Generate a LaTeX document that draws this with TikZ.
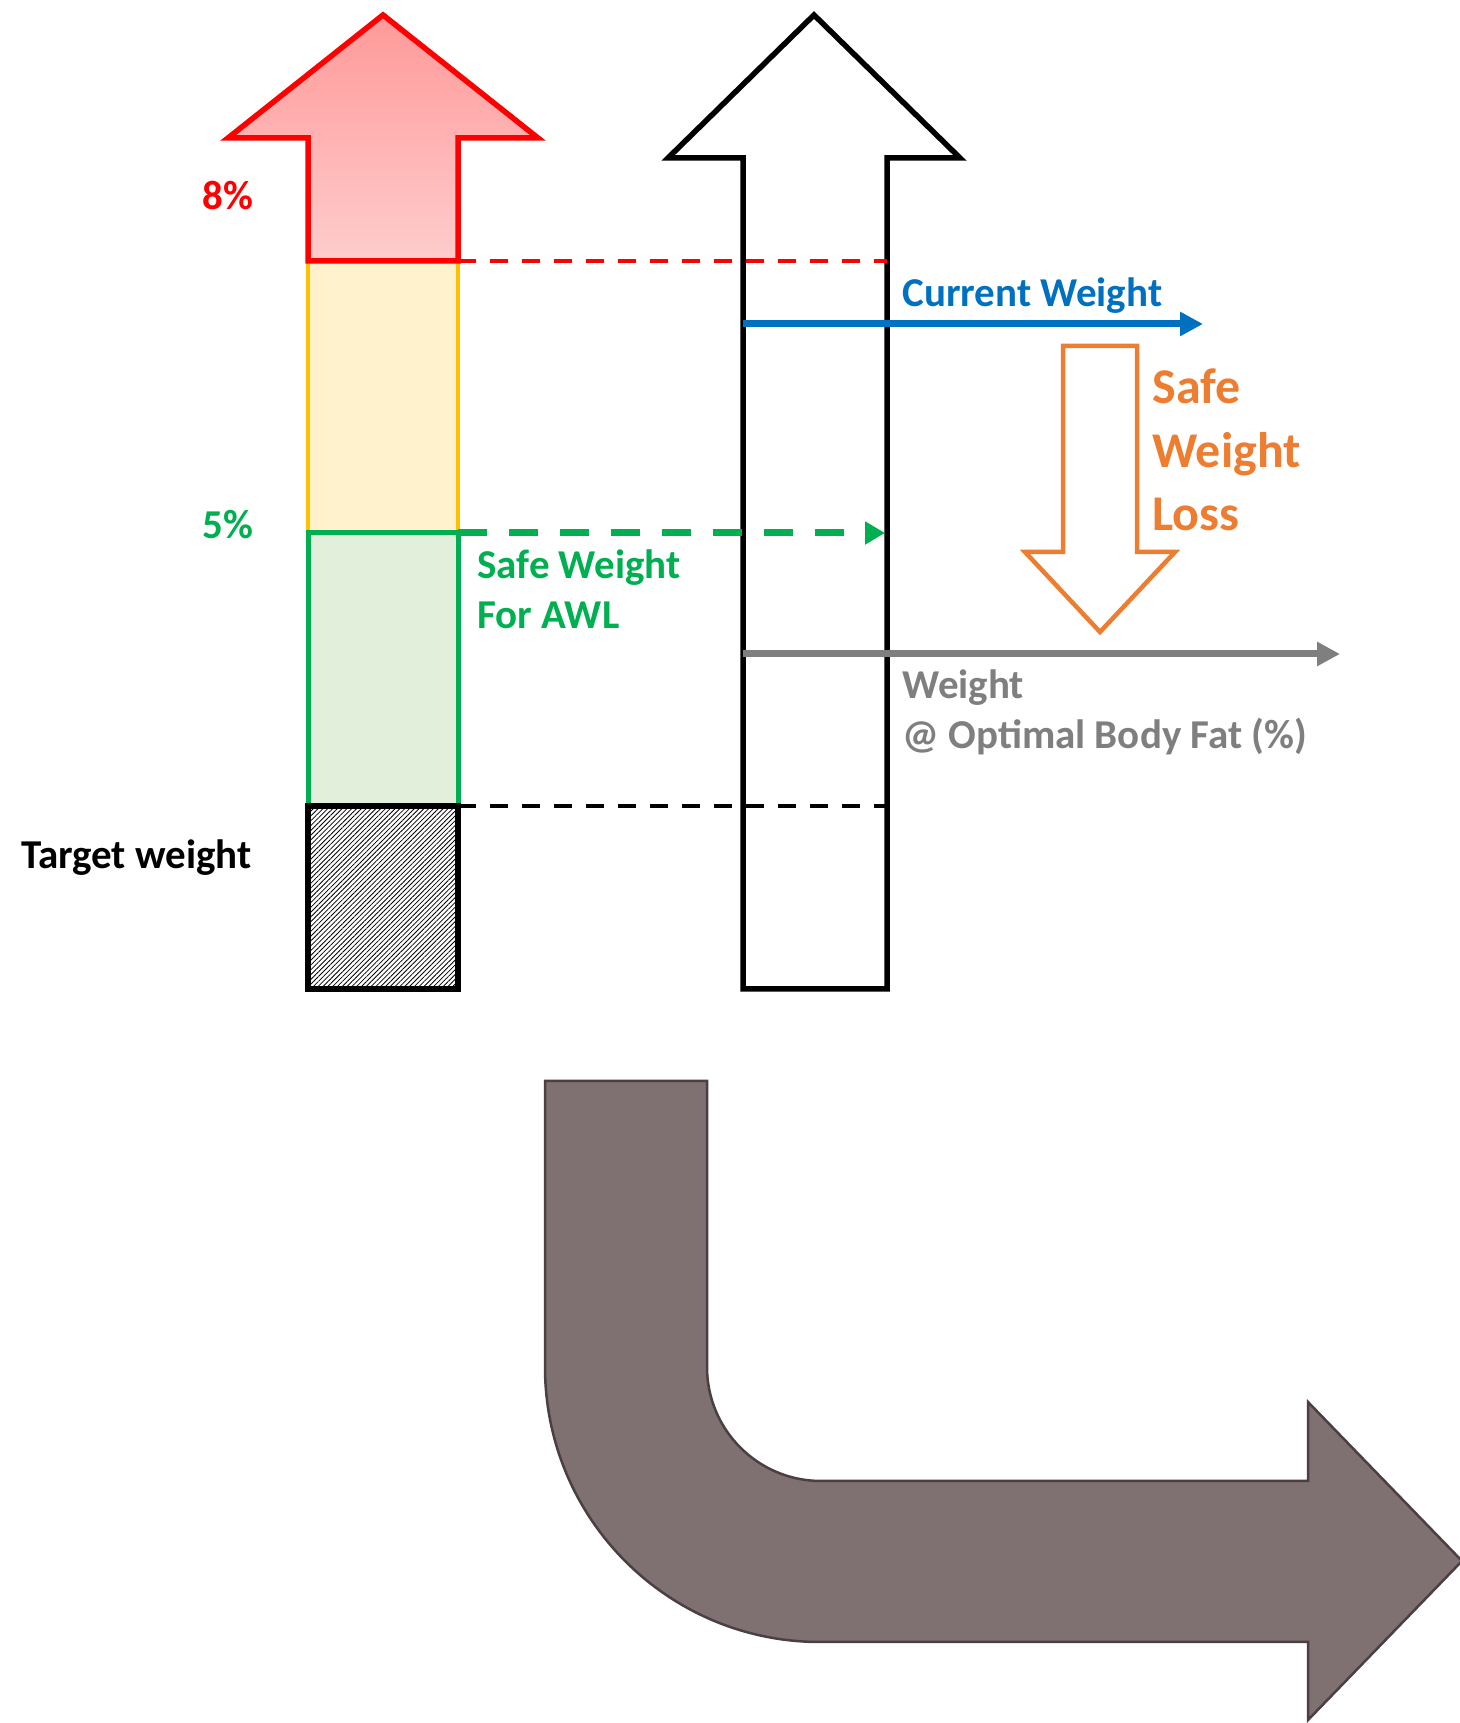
\documentclass[tikz,border=0pt]{standalone}
\usepackage{fontspec}
\setmainfont{Carlito}
\usepackage{xcolor}
\usepackage{tikz}
\usetikzlibrary{arrows.meta,patterns.meta}

\definecolor{wred}{HTML}{FF0000}
\definecolor{wamber}{HTML}{FFC000}
\definecolor{wcream}{HTML}{FFF2CC}
\definecolor{wgreen}{HTML}{00B050}
\definecolor{wmint}{HTML}{E2EFDA}
\definecolor{wblue}{HTML}{0070C0}
\definecolor{worange}{HTML}{ED7D31}
\definecolor{wgray}{HTML}{7F7F7F}
\definecolor{wtaupe}{HTML}{7F7171}
\definecolor{wtaupedark}{HTML}{4A3F42}
\newcommand{\wlfont}{\fontsize{20.5}{25}\selectfont\bfseries}
\newcommand{\wlbigfont}{\fontsize{25}{31.75}\selectfont\bfseries}

\begin{document}
\begin{tikzpicture}[x=0.5pt,y=0.5pt,
  lbl/.style={inner sep=0pt,font=\wlfont,align=left},
  guide/.style={line width=2.25pt,dash pattern=on 9pt off 7pt},
  pointer/.style={line width=3.5pt,-{Triangle[length=11.5pt,width=11.5pt]}}]
  \useasboundingbox (0,0) rectangle (1460,1723);
  % left column: bands for 0, 5 and 8 percent
  \fill[wcream] (308,1190) rectangle (458,1462);
  \draw[wamber,line width=2pt] (308,1190) -- (308,1462) (458,1190) -- (458,1462);
  \draw[wgreen,fill=wmint,line width=2.5pt] (308,917) rectangle (458,1190);
  \draw[line width=2.75pt,pattern={Lines[angle=45,distance=1.7pt,line width=0.4pt]}] (308,734) rectangle (458,917);
  \draw[wred,line width=2.75pt,line join=miter,top color=wred!40,bottom color=wred!20]
    (308,1462) -- (308,1585) -- (228,1585) -- (383,1708) -- (538,1585) -- (458,1585) -- (458,1462) -- cycle;
  % right column
  \draw[line width=2.75pt,fill=white] (743,734) -- (743,1565) -- (668,1565) -- (814,1708) -- (960,1565) -- (887,1565) -- (887,734) -- cycle;
  \coordinate (bar8) at (458,1462);
  \coordinate (bar5) at (458,1190);
  \coordinate (bar0) at (458,917);
  \coordinate (col8) at (887,1462);
  \coordinate (col5) at (885,1190);
  \coordinate (col0) at (887,917);
  \coordinate (cur) at (743,1399);
  \coordinate (curend) at (1203,1399);
  \coordinate (opt) at (743,1069);
  \coordinate (optend) at (1340,1069);
  \draw[guide,wred] (bar8) -- (col8);
  \draw[guide] (bar0) -- (col0);
  \draw[wgreen,line width=3.5pt,dash pattern=on 14.5pt off 11pt,-{Triangle[length=10pt,width=11pt]}] (bar5) -- (col5);
  \draw[pointer,wblue] (cur) -- (curend);
  \draw[pointer,wgray] (opt) -- (optend);
  % loss arrow
  \draw[worange,line width=2.25pt,fill=white] (1063,1377) -- (1137,1377) -- (1137,1171) -- (1175,1171) -- (1100,1091) -- (1025,1171) -- (1063,1171) -- cycle;
  % labels (base = last line)
  \node[lbl,wred,anchor=base east] (pct8) at (254,1513) {8\%};
  \node[lbl,wgreen,anchor=base east] (pct5) at (254,1184) {5\%};
  \node[lbl,anchor=base east] (target) at (252,854) {Target weight};
  \node[lbl,wblue,anchor=base west] (current) at (902,1416) {Current Weight};
  \node[lbl,worange,font=\wlbigfont,anchor=base west] (safeloss) at (1152,1192) {Safe\\Weight\\Loss};
  \node[lbl,wgreen,anchor=base west] (safeawl) at (477,1094) {Safe Weight\\For AWL};
  \node[lbl,wgray,anchor=base west] (optimal) at (902,974) {Weight\\@ Optimal Body Fat (\%)};
  % bent arrow
  \draw[wtaupedark,fill=wtaupe,line width=1.25pt] (545,642) -- (707,642) -- (707,356)
    arc[start angle=180,end angle=270,radius=114] -- (1308,242) -- (1308,321) -- (1462,162)
    -- (1308,3) -- (1308,81) -- (820,81) arc[start angle=270,end angle=180,radius=275] -- cycle;
\end{tikzpicture}
\end{document}
